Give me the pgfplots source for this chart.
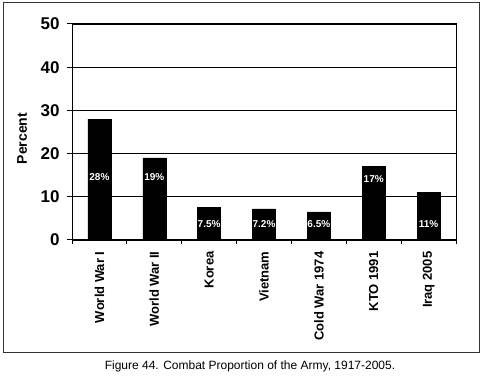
\documentclass[border=0pt]{standalone}
\usepackage{fontspec}
\setmainfont{Liberation Sans}
\usepackage{pgfplots}
\pgfplotsset{compat=1.18}
\begin{document}
\begin{tikzpicture}[x=1pt,y=1pt]
\useasboundingbox (0,0) rectangle (484,385);
\draw[line width=1pt, black!80] (3,32) rectangle (479,382);
\begin{axis}[
  at={(72pt,145pt)}, anchor=south west,
  scale only axis, width=384pt, height=216pt,
  xmin=-0.5, xmax=6.5, ymin=0, ymax=50,
  axis line style={line width=1pt},
  ybar, bar width=0.42, bar shift=0pt,
  tick pos=left, tick align=outside,
  xtick={0,...,6},
  xticklabels={World War I, World War II, Korea, Vietnam, Cold War 1974, KTO 1991, Iraq 2005},
  major x tick style={draw=none},
  minor xtick={-0.5,0.5,...,6.5},
  minor tick length=4pt,
  major tick length=5pt,
  tick style={black, line width=1pt},
  ytick={0,10,...,50},
  ymajorgrids,
  major grid style={black, line width=0.9pt},
  /pgf/number format/assume math mode=true,
  yticklabel style={font=\fontsize{17}{20}\selectfont\bfseries, xshift=-4pt},
  xticklabel style={rotate=90, anchor=east, yshift=0pt, xshift=-3pt, font=\fontsize{13}{15}\selectfont\bfseries},
  ylabel={Percent},
  ylabel style={font=\fontsize{14}{16}\selectfont\bfseries, at={(axis description cs:-0.130,0.47)}, anchor=center},
]
\addplot[fill=black, draw=black] coordinates {(0,28) (1,19) (2,7.5) (3,7.2) (4,6.5) (5,17) (6,11)};
\tikzset{barlab/.style={anchor=center, text=white, font=\fontsize{10}{12}\selectfont\bfseries}}
\node[barlab] at (axis cs:0,14.5) {28\%};
\node[barlab] at (axis cs:1,14.5) {19\%};
\node[barlab] at (axis cs:2,3.7) {7.5\%};
\node[barlab] at (axis cs:3,3.7) {7.2\%};
\node[barlab] at (axis cs:4,3.7) {6.5\%};
\node[barlab] at (axis cs:5,14) {17\%};
\node[barlab] at (axis cs:6,3.7) {11\%};
\end{axis}
\node at (250,19) {\fontsize{12}{14}\selectfont Figure 44. Combat Proportion of the Army, 1917-2005.};
\end{tikzpicture}
\end{document}
